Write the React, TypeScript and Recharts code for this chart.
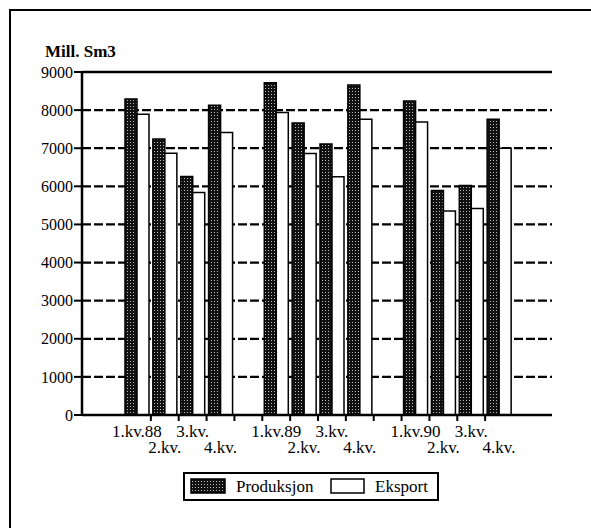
import React from 'react';
import { BarChart, Bar, XAxis, YAxis, CartesianGrid, ReferenceLine } from 'recharts';

// kvartal, med tomme plasser mellom årene
const tickLabels = ['1.kv.88', '2.kv.', '3.kv.', '4.kv.', '', '1.kv.89', '2.kv.', '3.kv.', '4.kv.', '', '1.kv.90', '2.kv.', '3.kv.', '4.kv.'];
const produksjon = [8290, 7240, 6260, 8130, null, 8720, 7660, 7110, 8660, null, 8240, 5890, 6020, 7760];
const eksport = [7890, 6870, 5840, 7410, null, 7940, 6860, 6250, 7760, null, 7690, 5350, 5420, 7000];
const yTicks = [0, 1000, 2000, 3000, 4000, 5000, 6000, 7000, 8000, 9000];

const data = tickLabels.map((label, i) => ({
  key: 'k' + i,
  label,
  Produksjon: produksjon[i],
  Eksport: eksport[i],
}));

const FONT = 'Liberation Serif, DejaVu Serif, serif';
const BAND = 27.86;

const XTick = (props: any) => {
  const { x, y, payload } = props;
  const i = payload.index;
  const label = tickLabels[i];
  const row = (i % 5) % 2;
  return (
    <g>
      {i < tickLabels.length - 1 && (
        <line x1={x + BAND / 2} x2={x + BAND / 2} y1={y} y2={y + 6} stroke="#000" strokeWidth={2} />
      )}
      <text x={x} y={y + (row ? 38 : 22)} textAnchor="middle" fontSize={17} fontFamily={FONT} fill="#000">
        {label}
      </text>
    </g>
  );
};

const Dots = ({ id }: { id: string }) => (
  <pattern id={id} width="3" height="3" patternUnits="userSpaceOnUse">
    <rect width="3" height="3" fill="#111" />
    <rect x="1" y="1" width="1" height="1" fill="#bbb" />
  </pattern>
);

export default function App() {
  return (
    <div style={{ position: 'absolute', left: 0, top: 0, width: 591, height: 528, overflow: 'hidden', background: '#fff', fontFamily: FONT }}>
      <div style={{ position: 'absolute', left: 9, top: 9, width: 600, height: 540, borderTop: '2.5px solid #000', borderLeft: '2.5px solid #000' }} />
      <div style={{ position: 'absolute', left: 45, top: 42, fontWeight: 'bold', fontSize: 17 }}>Mill. Sm3</div>
      <BarChart
        width={591}
        height={528}
        data={data}
        margin={{ top: 72, right: 39, left: 22, bottom: 73 }}
        barGap={0}
        barSize={12}
      >
        <defs>
          <Dots id="dots" />
        </defs>
        <CartesianGrid vertical={false} stroke="#000" strokeWidth={2.2} strokeDasharray="9 3" />
        <XAxis
          dataKey="key"
          interval={0}
          height={40}
          padding={{ left: 41, right: 39 }}
          axisLine={{ stroke: '#000', strokeWidth: 2.5 }}
          tickLine={false}
          tickSize={0}
          tickMargin={0}
          tick={<XTick />}
        />
        <YAxis
          width={60}
          domain={[0, 9000]}
          ticks={yTicks}
          interval={0}
          axisLine={{ stroke: '#000', strokeWidth: 2.5 }}
          tickLine={{ stroke: '#000', strokeWidth: 2 }}
          tickSize={8}
          tickMargin={1}
          tick={{ fill: '#000', fontSize: 16, fontFamily: FONT }}
        />
        <YAxis yAxisId="r" orientation="right" width={0} domain={[0, 9000]} tick={false} tickLine={false} axisLine={{ stroke: '#000', strokeWidth: 2.5 }} />
        <ReferenceLine y={9000} stroke="#000" strokeWidth={2.5} />
        <Bar dataKey="Produksjon" fill="url(#dots)" stroke="#000" strokeWidth={1.5} isAnimationActive={false} />
        <Bar dataKey="Eksport" fill="#fff" stroke="#000" strokeWidth={1.5} isAnimationActive={false} />
      </BarChart>
      <div style={{ position: 'absolute', left: 183, top: 472, width: 252, height: 25, border: '2px solid #000' }}>
        <svg width={252} height={25} style={{ position: 'absolute', left: 0, top: 0 }}>
          <defs>
            <Dots id="dotsL" />
          </defs>
          <rect x={6} y={5} width={34} height={14} fill="url(#dotsL)" stroke="#000" strokeWidth={1.5} />
          <text x={51} y={18} fontFamily={FONT} fontSize={17}>Produksjon</text>
          <rect x={146} y={5} width={33} height={14} fill="#fff" stroke="#000" strokeWidth={1.5} />
          <text x={190} y={18} fontFamily={FONT} fontSize={17}>Eksport</text>
        </svg>
      </div>
    </div>
  );
}
